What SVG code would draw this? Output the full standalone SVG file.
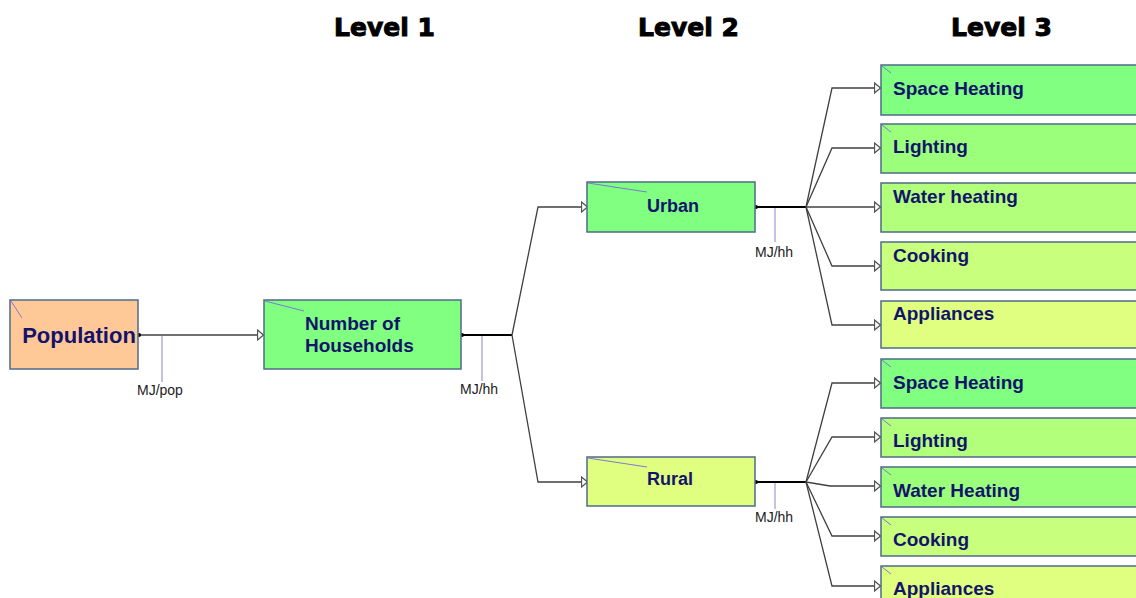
<svg xmlns="http://www.w3.org/2000/svg" width="1136" height="598" viewBox="0 0 1136 598">
<defs>
<marker id="arr" viewBox="0 0 8 12" refX="7.5" refY="6" markerWidth="8" markerHeight="12" markerUnits="userSpaceOnUse" orient="auto">
<path d="M1,1 L7,6 L1,11 Z" fill="#ffffff" stroke="#555" stroke-width="1.3"/>
</marker>
</defs>
<style>
.box{stroke:#4f6b8a;stroke-width:1.5}
.lbl{font-family:"Liberation Sans",Arial,sans-serif;font-weight:bold;fill:#13136b}
.hdr{font-family:"DejaVu Sans",sans-serif;font-weight:bold;font-size:25px;fill:#000;stroke:#000;stroke-width:1}
.unit{font-family:"Liberation Sans",Arial,sans-serif;font-size:14px;fill:#222}
.tick{stroke:#7a7ad8;stroke-width:1;fill:none}
.conn{stroke:#404040;stroke-width:1.3;fill:none}
.thick{stroke:#000;stroke-width:2.2;fill:none}
.unitline{stroke:#9a9ad8;stroke-width:1.2}
</style>
<rect width="1136" height="598" fill="#ffffff"/>
<g id="headers">
<text class="hdr" x="334" y="36">Level 1</text>
<text class="hdr" x="638" y="36">Level 2</text>
<text class="hdr" x="951" y="36">Level 3</text>
</g>
<g id="connectors">
<line class="conn" x1="138" y1="335" x2="264" y2="335" marker-end="url(#arr)"/>
<circle cx="139" cy="335" r="2" fill="#000"/>
<line class="unitline" x1="162" y1="336" x2="162" y2="382"/>
<text class="unit" x="137" y="395">MJ/pop</text>
<line class="thick" x1="461" y1="335" x2="512" y2="335"/>
<circle cx="462" cy="335" r="2" fill="#000"/>
<line class="unitline" x1="482" y1="336" x2="482" y2="381"/>
<text class="unit" x="460" y="394">MJ/hh</text>
<polyline class="conn" points="512,335 538,207 588,207" marker-end="url(#arr)"/>
<polyline class="conn" points="512,335 538,482 588,482" marker-end="url(#arr)"/>
<line class="thick" x1="755" y1="207" x2="806" y2="207"/>
<circle cx="756" cy="207" r="2" fill="#000"/>
<line class="unitline" x1="775" y1="208" x2="775" y2="242"/>
<text class="unit" x="755" y="257">MJ/hh</text>
<polyline class="conn" points="806,207 832,88 881,88" marker-end="url(#arr)"/>
<polyline class="conn" points="806,207 832,148 881,148" marker-end="url(#arr)"/>
<polyline class="conn" points="806,207 832,207 881,207" marker-end="url(#arr)"/>
<polyline class="conn" points="806,207 832,266 881,266" marker-end="url(#arr)"/>
<polyline class="conn" points="806,207 832,325 881,325" marker-end="url(#arr)"/>
<line class="thick" x1="755" y1="482" x2="806" y2="482"/>
<circle cx="756" cy="482" r="2" fill="#000"/>
<line class="unitline" x1="775" y1="483" x2="775" y2="509"/>
<text class="unit" x="755" y="522">MJ/hh</text>
<polyline class="conn" points="806,482 832,383 881,383" marker-end="url(#arr)"/>
<polyline class="conn" points="806,482 832,437 881,437" marker-end="url(#arr)"/>
<polyline class="conn" points="806,482 830,486 881,486" marker-end="url(#arr)"/>
<polyline class="conn" points="806,482 832,536 881,536" marker-end="url(#arr)"/>
<polyline class="conn" points="806,482 832,586 881,586" marker-end="url(#arr)"/>
</g>
<g id="population">
<rect class="box" x="10" y="300" width="128" height="69" fill="#ffc896"/>
<line class="tick" x1="11" y1="301" x2="22" y2="318"/>
<text class="lbl" x="79" y="343" font-size="22" text-anchor="middle">Population</text>
</g>
<g id="households">
<rect class="box" x="264" y="300" width="197" height="69" fill="#80ff80"/>
<line class="tick" x1="265" y1="301" x2="304" y2="311"/>
<text class="lbl" x="305" y="330" font-size="19">Number of</text>
<text class="lbl" x="305" y="352" font-size="19">Households</text>
</g>
<g id="urban">
<rect class="box" x="587" y="182" width="168" height="50" fill="#80ff80"/>
<line class="tick" x1="588" y1="183" x2="647" y2="192"/>
<text class="lbl" x="673" y="212" font-size="18" text-anchor="middle">Urban</text>
</g>
<g id="rural">
<rect class="box" x="587" y="457" width="168" height="49" fill="#e0ff80"/>
<line class="tick" x1="588" y1="458" x2="647" y2="467"/>
<text class="lbl" x="670" y="485" font-size="18" text-anchor="middle">Rural</text>
</g>
<g id="u-space-heating">
<rect class="box" x="881" y="65" width="260" height="50" fill="#80ff80"/>
<line class="tick" x1="882" y1="66" x2="891" y2="73"/>
<text class="lbl" x="893" y="95" font-size="19">Space Heating</text>
</g>
<g id="u-lighting">
<rect class="box" x="881" y="124" width="260" height="49" fill="#9cff7c"/>
<line class="tick" x1="882" y1="125" x2="891" y2="132"/>
<text class="lbl" x="893" y="153" font-size="19">Lighting</text>
</g>
<g id="u-water-heating">
<rect class="box" x="881" y="183" width="260" height="49" fill="#b2ff7c"/>
<text class="lbl" x="893" y="203" font-size="19">Water heating</text>
</g>
<g id="u-cooking">
<rect class="box" x="881" y="242" width="260" height="48" fill="#c8ff7c"/>
<text class="lbl" x="893" y="262" font-size="19">Cooking</text>
</g>
<g id="u-appliances">
<rect class="box" x="881" y="301" width="260" height="47" fill="#e0ff80"/>
<text class="lbl" x="893" y="320" font-size="19">Appliances</text>
</g>
<g id="r-space-heating">
<rect class="box" x="881" y="359" width="260" height="49" fill="#80ff80"/>
<line class="tick" x1="882" y1="360" x2="891" y2="367"/>
<text class="lbl" x="893" y="389" font-size="19">Space Heating</text>
</g>
<g id="r-lighting">
<rect class="box" x="881" y="418" width="260" height="39" fill="#b2ff7c"/>
<line class="tick" x1="882" y1="419" x2="891" y2="426"/>
<text class="lbl" x="893" y="447" font-size="19">Lighting</text>
</g>
<g id="r-water-heating">
<rect class="box" x="881" y="467" width="260" height="40" fill="#9cff7c"/>
<line class="tick" x1="882" y1="468" x2="891" y2="475"/>
<text class="lbl" x="893" y="497" font-size="19">Water Heating</text>
</g>
<g id="r-cooking">
<rect class="box" x="881" y="517" width="260" height="39" fill="#c8ff7c"/>
<line class="tick" x1="882" y1="518" x2="891" y2="525"/>
<text class="lbl" x="893" y="546" font-size="19">Cooking</text>
</g>
<g id="r-appliances">
<rect class="box" x="881" y="566" width="260" height="50" fill="#e0ff80"/>
<line class="tick" x1="882" y1="567" x2="891" y2="574"/>
<text class="lbl" x="893" y="595" font-size="19">Appliances</text>
</g>
</svg>
